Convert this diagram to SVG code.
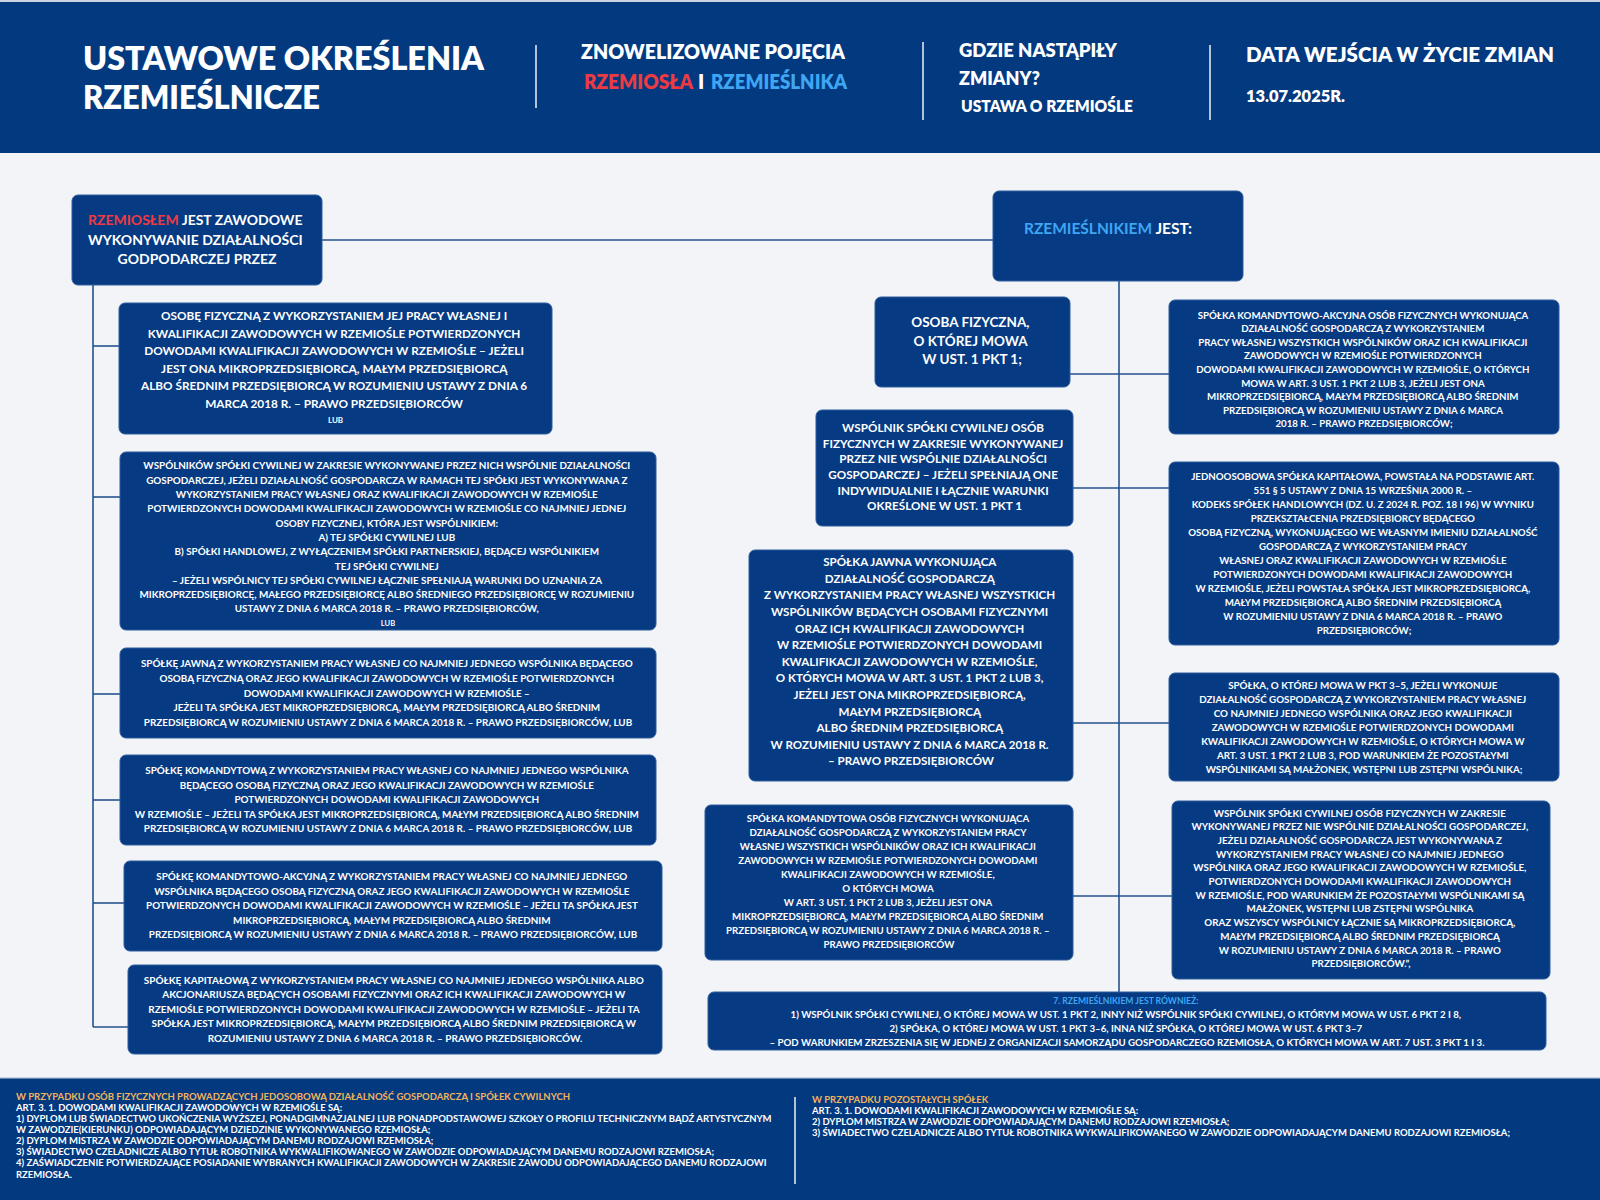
<svg xmlns="http://www.w3.org/2000/svg" width="1600" height="1200" viewBox="0 0 1600 1200">
<style>
.bx{fill:#063a82;stroke:#2f5d9b;stroke-width:1}
.t{font-family:Lato,'Liberation Sans',sans-serif;font-weight:700;fill:#fff;text-anchor:middle}
.h{font-family:Lato,'Liberation Sans',sans-serif;font-weight:800;fill:#fff}
.f{font-family:Lato,'Liberation Sans',sans-serif;font-weight:700;fill:#fff;font-size:9.5px}
.conn{stroke:#24528f;stroke-width:1.6;fill:none}
.div{stroke:#ffffff;stroke-width:1.4}
.red{fill:#ee3a43}
.blue{fill:#3ea6f2}
.gold{fill:#f2b35c}
</style>
<rect x="0" y="0" width="1600" height="1200" fill="#f2f4f7"/>
<g id="header">
<rect x="0" y="0" width="1600" height="153" fill="#03397f"/>
<rect x="0" y="0" width="1600" height="2" fill="#c9d3e2"/>
<text class="h" font-size="32" x="83" y="70" textLength="401" lengthAdjust="spacingAndGlyphs">USTAWOWE OKREŚLENIA</text>
<text class="h" font-size="32" x="83" y="109" textLength="237" lengthAdjust="spacingAndGlyphs">RZEMIEŚLNICZE</text>
<line class="div" x1="536" y1="45" x2="536" y2="108"/>
<text class="h" font-size="20" x="581" y="59" textLength="264" lengthAdjust="spacingAndGlyphs">ZNOWELIZOWANE POJĘCIA</text>
<text class="h red" font-size="20" x="584" y="89" textLength="109" lengthAdjust="spacingAndGlyphs">RZEMIOSŁA</text>
<text class="h" font-size="20" x="698" y="89">I</text>
<text class="h blue" font-size="20" x="711" y="89" textLength="136" lengthAdjust="spacingAndGlyphs">RZEMIEŚLNIKA</text>
<line class="div" x1="923" y1="42" x2="923" y2="120"/>
<text class="h" font-size="19" x="959" y="57" textLength="158" lengthAdjust="spacingAndGlyphs">GDZIE NASTĄPIŁY</text>
<text class="h" font-size="19" x="959" y="85" textLength="81" lengthAdjust="spacingAndGlyphs">ZMIANY?</text>
<text class="h" font-size="16" x="961" y="112" textLength="172" lengthAdjust="spacingAndGlyphs">USTAWA O RZEMIOŚLE</text>
<line class="div" x1="1210" y1="45" x2="1210" y2="120"/>
<text class="h" font-size="21" x="1246" y="62" textLength="308" lengthAdjust="spacingAndGlyphs">DATA WEJŚCIA W ŻYCIE ZMIAN</text>
<text class="h" font-size="16" x="1246" y="102" textLength="99" lengthAdjust="spacingAndGlyphs">13.07.2025R.</text>
</g>

<g id="connectors" class="conn">
<line x1="322" y1="240" x2="993" y2="240"/>
<line x1="93" y1="285" x2="93" y2="1027"/>
<line x1="93" y1="346" x2="119" y2="346"/>
<line x1="93" y1="497" x2="120" y2="497"/>
<line x1="93" y1="694" x2="120" y2="694"/>
<line x1="93" y1="800" x2="120" y2="800"/>
<line x1="93" y1="903" x2="124" y2="903"/>
<line x1="93" y1="1027" x2="128" y2="1027"/>
<line x1="1119" y1="281" x2="1119" y2="992"/>
<line x1="1070" y1="374" x2="1169" y2="374"/>
<line x1="1073" y1="488" x2="1169" y2="488"/>
<line x1="1073" y1="723" x2="1169" y2="723"/>
<line x1="1073" y1="896" x2="1172" y2="896"/>
</g>

<g id="rzemioslo">
<rect class="bx" x="72" y="195" width="250" height="90" rx="6"/>
<text class="t" font-size="14">
<tspan x="197" y="225"><tspan class="red">RZEMIOSŁEM</tspan> JEST ZAWODOWE</tspan>
<tspan x="197" y="245">WYKONYWANIE DZIAŁALNOŚCI</tspan>
<tspan x="197" y="264">GODPODARCZEJ PRZEZ</tspan>
</text>
</g>

<g id="l1">
<rect class="bx" x="119" y="303" width="433" height="131" rx="6"/>
<text class="t" font-size="11.8">
<tspan x="335.5" y="320">OSOBĘ FIZYCZNĄ Z WYKORZYSTANIEM JEJ PRACY WŁASNEJ I</tspan>
<tspan x="335.5" y="338">KWALIFIKACJI ZAWODOWYCH W RZEMIOŚLE POTWIERDZONYCH</tspan>
<tspan x="335.5" y="355">DOWODAMI KWALIFIKACJI ZAWODOWYCH W RZEMIOŚLE – JEŻELI</tspan>
<tspan x="335.5" y="373">JEST ONA MIKROPRZEDSIĘBIORCĄ, MAŁYM PRZEDSIĘBIORCĄ</tspan>
<tspan x="335.5" y="390">ALBO ŚREDNIM PRZEDSIĘBIORCĄ W ROZUMIENIU USTAWY Z DNIA 6</tspan>
<tspan x="335.5" y="408">MARCA 2018 R. – PRAWO PRZEDSIĘBIORCÓW</tspan>
<tspan x="335.5" y="423" font-size="8">LUB</tspan>
</text>
</g>

<g id="l2">
<rect class="bx" x="120" y="452" width="536" height="178" rx="6"/>
<text class="t" font-size="9.9">
<tspan x="388" y="469.4">WSPÓLNIKÓW SPÓŁKI CYWILNEJ W ZAKRESIE WYKONYWANEJ PRZEZ NICH WSPÓLNIE DZIAŁALNOŚCI</tspan>
<tspan x="388" y="483.7">GOSPODARCZEJ, JEŻELI DZIAŁALNOŚĆ GOSPODARCZA W RAMACH TEJ SPÓŁKI JEST WYKONYWANA Z</tspan>
<tspan x="388" y="498">WYKORZYSTANIEM PRACY WŁASNEJ ORAZ KWALIFIKACJI ZAWODOWYCH W RZEMIOŚLE</tspan>
<tspan x="388" y="512.3">POTWIERDZONYCH DOWODAMI KWALIFIKACJI ZAWODOWYCH W RZEMIOŚLE CO NAJMNIEJ JEDNEJ</tspan>
<tspan x="388" y="526.6">OSOBY FIZYCZNEJ, KTÓRA JEST WSPÓLNIKIEM:</tspan>
<tspan x="388" y="540.9">A) TEJ SPÓŁKI CYWILNEJ LUB</tspan>
<tspan x="388" y="555.2">B) SPÓŁKI HANDLOWEJ, Z WYŁĄCZENIEM SPÓŁKI PARTNERSKIEJ, BĘDĄCEJ WSPÓLNIKIEM</tspan>
<tspan x="388" y="569.5">TEJ SPÓŁKI CYWILNEJ</tspan>
<tspan x="388" y="583.8">– JEŻELI WSPÓLNICY TEJ SPÓŁKI CYWILNEJ ŁĄCZNIE SPEŁNIAJĄ WARUNKI DO UZNANIA ZA</tspan>
<tspan x="388" y="598.1">MIKROPRZEDSIĘBIORCĘ, MAŁEGO PRZEDSIĘBIORCĘ ALBO ŚREDNIEGO PRZEDSIĘBIORCĘ W ROZUMIENIU</tspan>
<tspan x="388" y="612.4">USTAWY Z DNIA 6 MARCA 2018 R. – PRAWO PRZEDSIĘBIORCÓW,</tspan>
<tspan x="388" y="626" font-size="7.5">LUB</tspan>
</text>
</g>

<g id="l3">
<rect class="bx" x="120" y="648" width="536" height="90" rx="6"/>
<text class="t" font-size="9.9">
<tspan x="388" y="667">SPÓŁKĘ JAWNĄ Z WYKORZYSTANIEM PRACY WŁASNEJ CO NAJMNIEJ JEDNEGO WSPÓLNIKA BĘDĄCEGO</tspan>
<tspan x="388" y="682">OSOBĄ FIZYCZNĄ ORAZ JEGO KWALIFIKACJI ZAWODOWYCH W RZEMIOŚLE POTWIERDZONYCH</tspan>
<tspan x="388" y="697">DOWODAMI KWALIFIKACJI ZAWODOWYCH W RZEMIOŚLE –</tspan>
<tspan x="388" y="711">JEŻELI TA SPÓŁKA JEST MIKROPRZEDSIĘBIORCĄ, MAŁYM PRZEDSIĘBIORCĄ ALBO ŚREDNIM</tspan>
<tspan x="388" y="726">PRZEDSIĘBIORCĄ W ROZUMIENIU USTAWY Z DNIA 6 MARCA 2018 R. – PRAWO PRZEDSIĘBIORCÓW, LUB</tspan>
</text>
</g>

<g id="l4">
<rect class="bx" x="120" y="755" width="536" height="90" rx="6"/>
<text class="t" font-size="9.9">
<tspan x="388" y="774">SPÓŁKĘ KOMANDYTOWĄ Z WYKORZYSTANIEM PRACY WŁASNEJ CO NAJMNIEJ JEDNEGO WSPÓLNIKA</tspan>
<tspan x="388" y="789">BĘDĄCEGO OSOBĄ FIZYCZNĄ ORAZ JEGO KWALIFIKACJI ZAWODOWYCH W RZEMIOŚLE</tspan>
<tspan x="388" y="803">POTWIERDZONYCH DOWODAMI KWALIFIKACJI ZAWODOWYCH</tspan>
<tspan x="388" y="818">W RZEMIOŚLE – JEŻELI TA SPÓŁKA JEST MIKROPRZEDSIĘBIORCĄ, MAŁYM PRZEDSIĘBIORCĄ ALBO ŚREDNIM</tspan>
<tspan x="388" y="832">PRZEDSIĘBIORCĄ W ROZUMIENIU USTAWY Z DNIA 6 MARCA 2018 R. – PRAWO PRZEDSIĘBIORCÓW, LUB</tspan>
</text>
</g>

<g id="l5">
<rect class="bx" x="124" y="861" width="538" height="90" rx="6"/>
<text class="t" font-size="9.9">
<tspan x="393" y="880">SPÓŁKĘ KOMANDYTOWO-AKCYJNĄ Z WYKORZYSTANIEM PRACY WŁASNEJ CO NAJMNIEJ JEDNEGO</tspan>
<tspan x="393" y="895">WSPÓLNIKA BĘDĄCEGO OSOBĄ FIZYCZNĄ ORAZ JEGO KWALIFIKACJI ZAWODOWYCH W RZEMIOŚLE</tspan>
<tspan x="393" y="909">POTWIERDZONYCH DOWODAMI KWALIFIKACJI ZAWODOWYCH W RZEMIOŚLE – JEŻELI TA SPÓŁKA JEST</tspan>
<tspan x="393" y="924">MIKROPRZEDSIĘBIORCĄ, MAŁYM PRZEDSIĘBIORCĄ ALBO ŚREDNIM</tspan>
<tspan x="393" y="938">PRZEDSIĘBIORCĄ W ROZUMIENIU USTAWY Z DNIA 6 MARCA 2018 R. – PRAWO PRZEDSIĘBIORCÓW, LUB</tspan>
</text>
</g>

<g id="l6">
<rect class="bx" x="128" y="965" width="534" height="89" rx="6"/>
<text class="t" font-size="10">
<tspan x="395" y="984">SPÓŁKĘ KAPITAŁOWĄ Z WYKORZYSTANIEM PRACY WŁASNEJ CO NAJMNIEJ JEDNEGO WSPÓLNIKA ALBO</tspan>
<tspan x="395" y="998">AKCJONARIUSZA BĘDĄCYCH OSOBAMI FIZYCZNYMI ORAZ ICH KWALIFIKACJI ZAWODOWYCH W</tspan>
<tspan x="395" y="1013">RZEMIOŚLE POTWIERDZONYCH DOWODAMI KWALIFIKACJI ZAWODOWYCH W RZEMIOŚLE – JEŻELI TA</tspan>
<tspan x="395" y="1027">SPÓŁKA JEST MIKROPRZEDSIĘBIORCĄ, MAŁYM PRZEDSIĘBIORCĄ ALBO ŚREDNIM PRZEDSIĘBIORCĄ W</tspan>
<tspan x="395" y="1042">ROZUMIENIU USTAWY Z DNIA 6 MARCA 2018 R. – PRAWO PRZEDSIĘBIORCÓW.</tspan>
</text>
</g>

<g id="rzemieslnik">
<rect class="bx" x="993" y="191" width="250" height="90" rx="6"/>
<text class="t" font-size="15" x="1108" y="234" textLength="168" lengthAdjust="spacingAndGlyphs"><tspan class="blue">RZEMIEŚLNIKIEM</tspan> JEST:</text>
</g>

<g id="r1">
<rect class="bx" x="875" y="297" width="195" height="90" rx="6"/>
<text class="t" font-size="13.5">
<tspan x="972" y="327">OSOBA FIZYCZNA,</tspan>
<tspan x="972" y="346">O KTÓREJ MOWA</tspan>
<tspan x="972" y="364">W UST. 1 PKT 1;</tspan>
</text>
</g>

<g id="r2">
<rect class="bx" x="1169" y="300" width="390" height="134" rx="6"/>
<text class="t" font-size="9.7">
<tspan x="1364" y="318.5">SPÓŁKA KOMANDYTOWO-AKCYJNA OSÓB FIZYCZNYCH WYKONUJĄCA</tspan>
<tspan x="1364" y="332.1">DZIAŁALNOŚĆ GOSPODARCZĄ Z WYKORZYSTANIEM</tspan>
<tspan x="1364" y="345.7">PRACY WŁASNEJ WSZYSTKICH WSPÓLNIKÓW ORAZ ICH KWALIFIKACJI</tspan>
<tspan x="1364" y="359.3">ZAWODOWYCH W RZEMIOŚLE POTWIERDZONYCH</tspan>
<tspan x="1364" y="372.9">DOWODAMI KWALIFIKACJI ZAWODOWYCH W RZEMIOŚLE, O KTÓRYCH</tspan>
<tspan x="1364" y="386.5">MOWA W ART. 3 UST. 1 PKT 2 LUB 3, JEŻELI JEST ONA</tspan>
<tspan x="1364" y="400.1">MIKROPRZEDSIĘBIORCĄ, MAŁYM PRZEDSIĘBIORCĄ ALBO ŚREDNIM</tspan>
<tspan x="1364" y="413.7">PRZEDSIĘBIORCĄ W ROZUMIENIU USTAWY Z DNIA 6 MARCA</tspan>
<tspan x="1364" y="427.3">2018 R. – PRAWO PRZEDSIĘBIORCÓW;</tspan>
</text>
</g>

<g id="r3">
<rect class="bx" x="816" y="410" width="257" height="116" rx="6"/>
<text class="t" font-size="11.7">
<tspan x="944.5" y="432">WSPÓLNIK SPÓŁKI CYWILNEJ OSÓB</tspan>
<tspan x="944.5" y="448">FIZYCZNYCH W ZAKRESIE WYKONYWANEJ</tspan>
<tspan x="944.5" y="463">PRZEZ NIE WSPÓLNIE DZIAŁALNOŚCI</tspan>
<tspan x="944.5" y="479">GOSPODARCZEJ – JEŻELI SPEŁNIAJĄ ONE</tspan>
<tspan x="944.5" y="495">INDYWIDUALNIE I ŁĄCZNIE WARUNKI</tspan>
<tspan x="944.5" y="510">OKREŚLONE W UST. 1 PKT 1</tspan>
</text>
</g>

<g id="r4">
<rect class="bx" x="749" y="550" width="324" height="231" rx="6"/>
<text class="t" font-size="11.6">
<tspan x="911" y="566.2">SPÓŁKA JAWNA WYKONUJĄCA</tspan>
<tspan x="911" y="582.8">DZIAŁALNOŚĆ GOSPODARCZĄ</tspan>
<tspan x="911" y="599.4">Z WYKORZYSTANIEM PRACY WŁASNEJ WSZYSTKICH</tspan>
<tspan x="911" y="616">WSPÓLNIKÓW BĘDĄCYCH OSOBAMI FIZYCZNYMI</tspan>
<tspan x="911" y="632.6">ORAZ ICH KWALIFIKACJI ZAWODOWYCH</tspan>
<tspan x="911" y="649.2">W RZEMIOŚLE POTWIERDZONYCH DOWODAMI</tspan>
<tspan x="911" y="665.8">KWALIFIKACJI ZAWODOWYCH W RZEMIOŚLE,</tspan>
<tspan x="911" y="682.4">O KTÓRYCH MOWA W ART. 3 UST. 1 PKT 2 LUB 3,</tspan>
<tspan x="911" y="699">JEŻELI JEST ONA MIKROPRZEDSIĘBIORCĄ,</tspan>
<tspan x="911" y="715.6">MAŁYM PRZEDSIĘBIORCĄ</tspan>
<tspan x="911" y="732.2">ALBO ŚREDNIM PRZEDSIĘBIORCĄ</tspan>
<tspan x="911" y="748.8">W ROZUMIENIU USTAWY Z DNIA 6 MARCA 2018 R.</tspan>
<tspan x="911" y="765.4">– PRAWO PRZEDSIĘBIORCÓW</tspan>
</text>
</g>

<g id="r5">
<rect class="bx" x="1169" y="462" width="390" height="183" rx="6"/>
<text class="t" font-size="9.7">
<tspan x="1364" y="479.5">JEDNOOSOBOWA SPÓŁKA KAPITAŁOWA, POWSTAŁA NA PODSTAWIE ART.</tspan>
<tspan x="1364" y="493.5">551 § 5 USTAWY Z DNIA 15 WRZEŚNIA 2000 R. –</tspan>
<tspan x="1364" y="507.5">KODEKS SPÓŁEK HANDLOWYCH (DZ. U. Z 2024 R. POZ. 18 I 96) W WYNIKU</tspan>
<tspan x="1364" y="521.5">PRZEKSZTAŁCENIA PRZEDSIĘBIORCY BĘDĄCEGO</tspan>
<tspan x="1364" y="535.5">OSOBĄ FIZYCZNĄ, WYKONUJĄCEGO WE WŁASNYM IMIENIU DZIAŁALNOŚĆ</tspan>
<tspan x="1364" y="549.5">GOSPODARCZĄ Z WYKORZYSTANIEM PRACY</tspan>
<tspan x="1364" y="563.5">WŁASNEJ ORAZ KWALIFIKACJI ZAWODOWYCH W RZEMIOŚLE</tspan>
<tspan x="1364" y="577.5">POTWIERDZONYCH DOWODAMI KWALIFIKACJI ZAWODOWYCH</tspan>
<tspan x="1364" y="591.5">W RZEMIOŚLE, JEŻELI POWSTAŁA SPÓŁKA JEST MIKROPRZEDSIĘBIORCĄ,</tspan>
<tspan x="1364" y="605.5">MAŁYM PRZEDSIĘBIORCĄ ALBO ŚREDNIM PRZEDSIĘBIORCĄ</tspan>
<tspan x="1364" y="619.5">W ROZUMIENIU USTAWY Z DNIA 6 MARCA 2018 R. – PRAWO</tspan>
<tspan x="1364" y="633.5">PRZEDSIĘBIORCÓW;</tspan>
</text>
</g>

<g id="r6">
<rect class="bx" x="1169" y="673" width="390" height="108" rx="6"/>
<text class="t" font-size="9.8">
<tspan x="1364" y="688.5">SPÓŁKA, O KTÓREJ MOWA W PKT 3–5, JEŻELI WYKONUJE</tspan>
<tspan x="1364" y="702.5">DZIAŁALNOŚĆ GOSPODARCZĄ Z WYKORZYSTANIEM PRACY WŁASNEJ</tspan>
<tspan x="1364" y="716.5">CO NAJMNIEJ JEDNEGO WSPÓLNIKA ORAZ JEGO KWALIFIKACJI</tspan>
<tspan x="1364" y="730.5">ZAWODOWYCH W RZEMIOŚLE POTWIERDZONYCH DOWODAMI</tspan>
<tspan x="1364" y="744.5">KWALIFIKACJI ZAWODOWYCH W RZEMIOŚLE, O KTÓRYCH MOWA W</tspan>
<tspan x="1364" y="758.5">ART. 3 UST. 1 PKT 2 LUB 3, POD WARUNKIEM ŻE POZOSTAŁYMI</tspan>
<tspan x="1364" y="772.5">WSPÓLNIKAMI SĄ MAŁŻONEK, WSTĘPNI LUB ZSTĘPNI WSPÓLNIKA;</tspan>
</text>
</g>

<g id="r7">
<rect class="bx" x="705" y="805" width="368" height="155" rx="6"/>
<text class="t" font-size="9.7">
<tspan x="889" y="822.4">SPÓŁKA KOMANDYTOWA OSÓB FIZYCZNYCH WYKONUJĄCA</tspan>
<tspan x="889" y="836.4">DZIAŁALNOŚĆ GOSPODARCZĄ Z WYKORZYSTANIEM PRACY</tspan>
<tspan x="889" y="850.4">WŁASNEJ WSZYSTKICH WSPÓLNIKÓW ORAZ ICH KWALIFIKACJI</tspan>
<tspan x="889" y="864.4">ZAWODOWYCH W RZEMIOŚLE POTWIERDZONYCH DOWODAMI</tspan>
<tspan x="889" y="878.4">KWALIFIKACJI ZAWODOWYCH W RZEMIOŚLE,</tspan>
<tspan x="889" y="892.4">O KTÓRYCH MOWA</tspan>
<tspan x="889" y="906.4">W ART. 3 UST. 1 PKT 2 LUB 3, JEŻELI JEST ONA</tspan>
<tspan x="889" y="920.4">MIKROPRZEDSIĘBIORCĄ, MAŁYM PRZEDSIĘBIORCĄ ALBO ŚREDNIM</tspan>
<tspan x="889" y="934.4">PRZEDSIĘBIORCĄ W ROZUMIENIU USTAWY Z DNIA 6 MARCA 2018 R. –</tspan>
<tspan x="889" y="948.4">PRAWO PRZEDSIĘBIORCÓW</tspan>
</text>
</g>

<g id="r8">
<rect class="bx" x="1172" y="801" width="378" height="178" rx="6"/>
<text class="t" font-size="9.8">
<tspan x="1361" y="816.5">WSPÓLNIK SPÓŁKI CYWILNEJ OSÓB FIZYCZNYCH W ZAKRESIE</tspan>
<tspan x="1361" y="830.2">WYKONYWANEJ PRZEZ NIE WSPÓLNIE DZIAŁALNOŚCI GOSPODARCZEJ,</tspan>
<tspan x="1361" y="843.9">JEŻELI DZIAŁALNOŚĆ GOSPODARCZA JEST WYKONYWANA Z</tspan>
<tspan x="1361" y="857.6">WYKORZYSTANIEM PRACY WŁASNEJ CO NAJMNIEJ JEDNEGO</tspan>
<tspan x="1361" y="871.3">WSPÓLNIKA ORAZ JEGO KWALIFIKACJI ZAWODOWYCH W RZEMIOŚLE,</tspan>
<tspan x="1361" y="885">POTWIERDZONYCH DOWODAMI KWALIFIKACJI ZAWODOWYCH</tspan>
<tspan x="1361" y="898.7">W RZEMIOŚLE, POD WARUNKIEM ŻE POZOSTAŁYMI WSPÓLNIKAMI SĄ</tspan>
<tspan x="1361" y="912.4">MAŁŻONEK, WSTĘPNI LUB ZSTĘPNI WSPÓLNIKA</tspan>
<tspan x="1361" y="926.1">ORAZ WSZYSCY WSPÓLNICY ŁĄCZNIE SĄ MIKROPRZEDSIĘBIORCĄ,</tspan>
<tspan x="1361" y="939.8">MAŁYM PRZEDSIĘBIORCĄ ALBO ŚREDNIM PRZEDSIĘBIORCĄ</tspan>
<tspan x="1361" y="953.5">W ROZUMIENIU USTAWY Z DNIA 6 MARCA 2018 R. – PRAWO</tspan>
<tspan x="1361" y="967.2">PRZEDSIĘBIORCÓW.”,</tspan>
</text>
</g>

<g id="r9">
<rect class="bx" x="708" y="992" width="838" height="58" rx="6"/>
<text class="t" font-size="9.7">
<tspan x="1127" y="1004" font-size="8.6" class="blue">7. RZEMIEŚLNIKIEM JEST RÓWNIEŻ:</tspan>
<tspan x="1127" y="1018.3">1) WSPÓLNIK SPÓŁKI CYWILNEJ, O KTÓREJ MOWA W UST. 1 PKT 2, INNY NIŻ WSPÓLNIK SPÓŁKI CYWILNEJ, O KTÓRYM MOWA W UST. 6 PKT 2 I 8,</tspan>
<tspan x="1127" y="1032.3">2) SPÓŁKA, O KTÓREJ MOWA W UST. 1 PKT 3–6, INNA NIŻ SPÓŁKA, O KTÓREJ MOWA W UST. 6 PKT 3–7</tspan>
<tspan x="1127" y="1046.3">– POD WARUNKIEM ZRZESZENIA SIĘ W JEDNEJ Z ORGANIZACJI SAMORZĄDU GOSPODARCZEGO RZEMIOSŁA, O KTÓRYCH MOWA W ART. 7 UST. 3 PKT 1 I 3.</tspan>
</text>
</g>

<g id="footer">
<rect x="0" y="1077" width="1600" height="123" fill="#03397f"/>
<rect x="0" y="1077" width="1600" height="1.5" fill="#c9d3e2"/>
<text class="f">
<tspan x="16" y="1100" class="gold">W PRZYPADKU OSÓB FIZYCZNYCH PROWADZĄCYCH JEDOSOBOWĄ DZIAŁALNOŚĆ GOSPODARCZĄ I SPÓŁEK CYWILNYCH</tspan>
<tspan x="16" y="1111">ART. 3. 1. DOWODAMI KWALIFIKACJI ZAWODOWYCH W RZEMIOŚLE SĄ:</tspan>
<tspan x="16" y="1122">1) DYPLOM LUB ŚWIADECTWO UKOŃCZENIA WYŻSZEJ, PONADGIMNAZJALNEJ LUB PONADPODSTAWOWEJ SZKOŁY O PROFILU TECHNICZNYM BĄDŹ ARTYSTYCZNYM</tspan>
<tspan x="16" y="1133">W ZAWODZIE(KIERUNKU) ODPOWIADAJĄCYM DZIEDZINIE WYKONYWANEGO RZEMIOSŁA;</tspan>
<tspan x="16" y="1144">2) DYPLOM MISTRZA W ZAWODZIE ODPOWIADAJĄCYM DANEMU RODZAJOWI RZEMIOSŁA;</tspan>
<tspan x="16" y="1155">3) ŚWIADECTWO CZELADNICZE ALBO TYTUŁ ROBOTNIKA WYKWALIFIKOWANEGO W ZAWODZIE ODPOWIADAJĄCYM DANEMU RODZAJOWI RZEMIOSŁA;</tspan>
<tspan x="16" y="1166">4) ZAŚWIADCZENIE POTWIERDZAJĄCE POSIADANIE WYBRANYCH KWALIFIKACJI ZAWODOWYCH W ZAKRESIE ZAWODU ODPOWIADAJĄCEGO DANEMU RODZAJOWI</tspan>
<tspan x="16" y="1178">RZEMIOSŁA.</tspan>
</text>
<line class="div" x1="795" y1="1097" x2="795" y2="1184"/>
<text class="f">
<tspan x="812" y="1103" class="gold">W PRZYPADKU POZOSTAŁYCH SPÓŁEK</tspan>
<tspan x="812" y="1114">ART. 3. 1. DOWODAMI KWALIFIKACJI ZAWODOWYCH W RZEMIOŚLE SĄ:</tspan>
<tspan x="812" y="1125">2) DYPLOM MISTRZA W ZAWODZIE ODPOWIADAJĄCYM DANEMU RODZAJOWI RZEMIOSŁA;</tspan>
<tspan x="812" y="1136">3) ŚWIADECTWO CZELADNICZE ALBO TYTUŁ ROBOTNIKA WYKWALIFIKOWANEGO W ZAWODZIE ODPOWIADAJĄCYM DANEMU RODZAJOWI RZEMIOSŁA;</tspan>
</text>
</g>
</svg>
